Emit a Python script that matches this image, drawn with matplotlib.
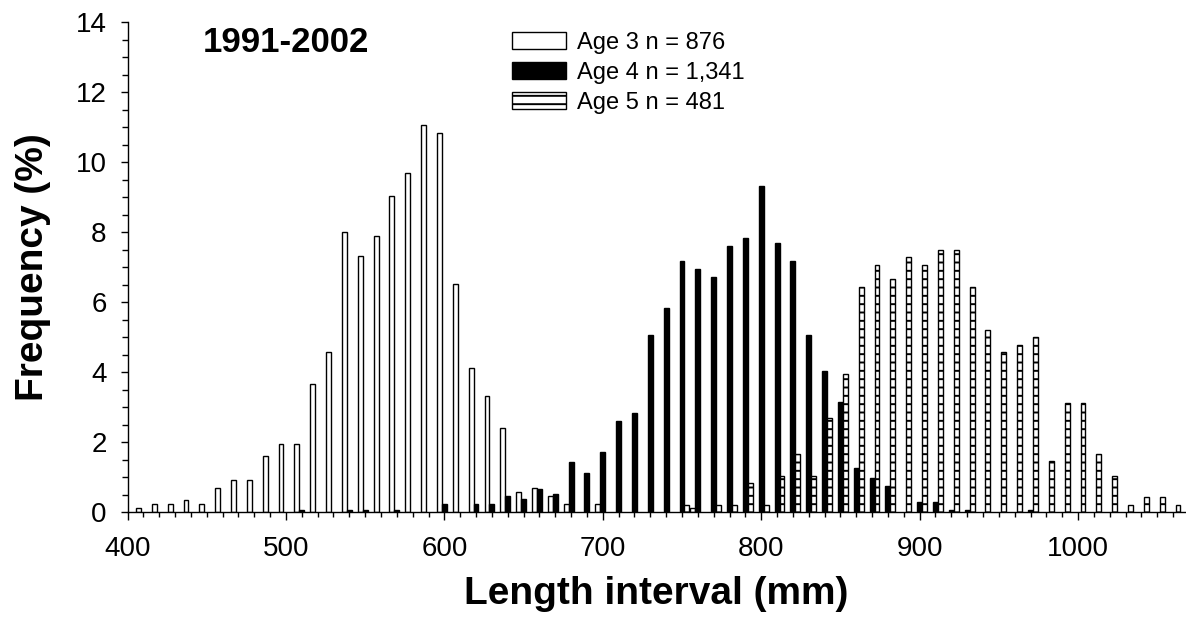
import numpy as np
import matplotlib
matplotlib.use("Agg")
import matplotlib.pyplot as plt
from matplotlib.ticker import MultipleLocator, FixedLocator

plt.rcParams['font.family'] = ['Liberation Sans', 'DejaVu Sans']
plt.rcParams['hatch.linewidth'] = 1.4

# Length interval bins (mm)
bins = list(range(410, 1061, 10))

# Frequency (%) per bin, 410 ... 1060
age3 = [0.11, 0.23, 0.23, 0.34, 0.23, 0.68, 0.91, 0.91, 1.60, 1.94,   # 410-500
        1.94, 3.65, 4.57, 7.99, 7.31, 7.88, 9.02, 9.70, 11.07, 10.84,  # 510-600
        6.51, 4.11, 3.31, 2.40, 0.57, 0.68, 0.46, 0.23, 0.00, 0.23,    # 610-700
        0.00, 0.00, 0.00, 0.00, 0.00, 0.11, 0.00, 0.00, 0.00, 0.00,    # 710-800
        0.00, 0.00, 0.00, 0.00, 0.00, 0.00, 0.00, 0.00, 0.00, 0.00,    # 810-900
        0.00, 0.00, 0.00, 0.00, 0.00, 0.00, 0.00, 0.00, 0.00, 0.00,    # 910-1000
        0.00, 0.00, 0.00, 0.00, 0.00, 0.00]                            # 1010-1060

age4 = [0.00, 0.00, 0.00, 0.00, 0.00, 0.00, 0.00, 0.00, 0.00, 0.00,    # 410-500
        0.07, 0.00, 0.00, 0.07, 0.07, 0.00, 0.07, 0.00, 0.00, 0.22,    # 510-600
        0.00, 0.22, 0.22, 0.45, 0.37, 0.67, 0.52, 1.42, 1.12, 1.72,    # 610-700
        2.61, 2.83, 5.07, 5.82, 7.16, 6.94, 6.71, 7.61, 7.83, 9.32,    # 710-800
        7.68, 7.16, 5.07, 4.03, 3.13, 1.27, 0.97, 0.75, 0.00, 0.30,    # 810-900
        0.30, 0.07, 0.07, 0.00, 0.00, 0.00, 0.07, 0.00, 0.00, 0.00,    # 910-1000
        0.00, 0.00, 0.00, 0.00, 0.00, 0.00]                            # 1010-1060

age5 = [0.00, 0.00, 0.00, 0.00, 0.00, 0.00, 0.00, 0.00, 0.00, 0.00,    # 410-500
        0.00, 0.00, 0.00, 0.00, 0.00, 0.00, 0.00, 0.00, 0.00, 0.00,    # 510-600
        0.00, 0.00, 0.00, 0.00, 0.00, 0.00, 0.00, 0.00, 0.00, 0.00,    # 610-700
        0.00, 0.00, 0.00, 0.00, 0.21, 0.00, 0.21, 0.21, 0.83, 0.21,    # 710-800
        1.04, 1.66, 1.04, 2.70, 3.95, 6.44, 7.07, 6.65, 7.28, 7.07,    # 810-900
        7.48, 7.48, 6.44, 5.20, 4.57, 4.78, 4.99, 1.46, 3.12, 3.12,    # 910-1000
        1.66, 1.04, 0.21, 0.42, 0.42, 0.21]                            # 1010-1060

labels = ["Age 3 n = 876", "Age 4 n = 1,341", "Age 5 n = 481"]
title_text = "1991-2002"
xlabel = "Length interval (mm)"
ylabel = "Frequency (%)"

W, H = 1186, 634
fig = plt.figure(figsize=(W / 100, H / 100), dpi=100)
ax = fig.add_axes([127.5 / W, 122 / H, (1185 - 127.5) / W, 490 / H])

x = np.array(bins, dtype=float)
w = 3.1
lw = 1.0

def masked(v):
    v = np.array(v, dtype=float)
    return np.where(v > 0, v, np.nan)

b3 = ax.bar(x - w, masked(age3), width=w, color='white', edgecolor='black', linewidth=lw, label=labels[0])
b4 = ax.bar(x, masked(age4), width=w, color='black', edgecolor='black', linewidth=lw, label=labels[1])
b5 = ax.bar(x + w, masked(age5), width=w, color='white', edgecolor='black', linewidth=lw, hatch='--', label=labels[2])

ax.set_xlim(400, 1067.5)
ax.set_ylim(0, 14)
ax.spines['top'].set_visible(False)
ax.spines['right'].set_visible(False)
ax.spines['left'].set_linewidth(1.0)
ax.spines['bottom'].set_linewidth(1.0)

ax.xaxis.set_major_locator(FixedLocator([400, 500, 600, 700, 800, 900, 1000]))
ax.xaxis.set_minor_locator(MultipleLocator(10))
ax.yaxis.set_major_locator(MultipleLocator(2))
ax.yaxis.set_minor_locator(MultipleLocator(0.5))

ax.tick_params(axis='x', which='major', direction='out', length=6, width=1.0, labelsize=20, pad=11)
ax.tick_params(axis='x', which='minor', direction='out', length=3.5, width=1.0)
ax.tick_params(axis='y', which='major', direction='out', length=5, width=1.0, labelsize=20, pad=10)
ax.tick_params(axis='y', which='minor', direction='out', length=4, width=1.0)

ax.set_xlabel(xlabel, fontsize=28, fontweight='bold', labelpad=10)
ax.set_ylabel(ylabel, fontsize=28, fontweight='bold', labelpad=18)

ax.text(500, 13.4, title_text, fontsize=25, fontweight='bold', ha='center', va='center')

leg = ax.legend(handles=[b3, b4, b5], labels=labels, loc='upper left',
                bbox_to_anchor=(511.7 / W, 1 - 32 / H), bbox_transform=fig.transFigure,
                frameon=False, fontsize=17, handlelength=2.3, handleheight=0.72,
                handletextpad=0.45, labelspacing=0.34, borderpad=0, borderaxespad=0)

fig.savefig("out.png", dpi=100)
